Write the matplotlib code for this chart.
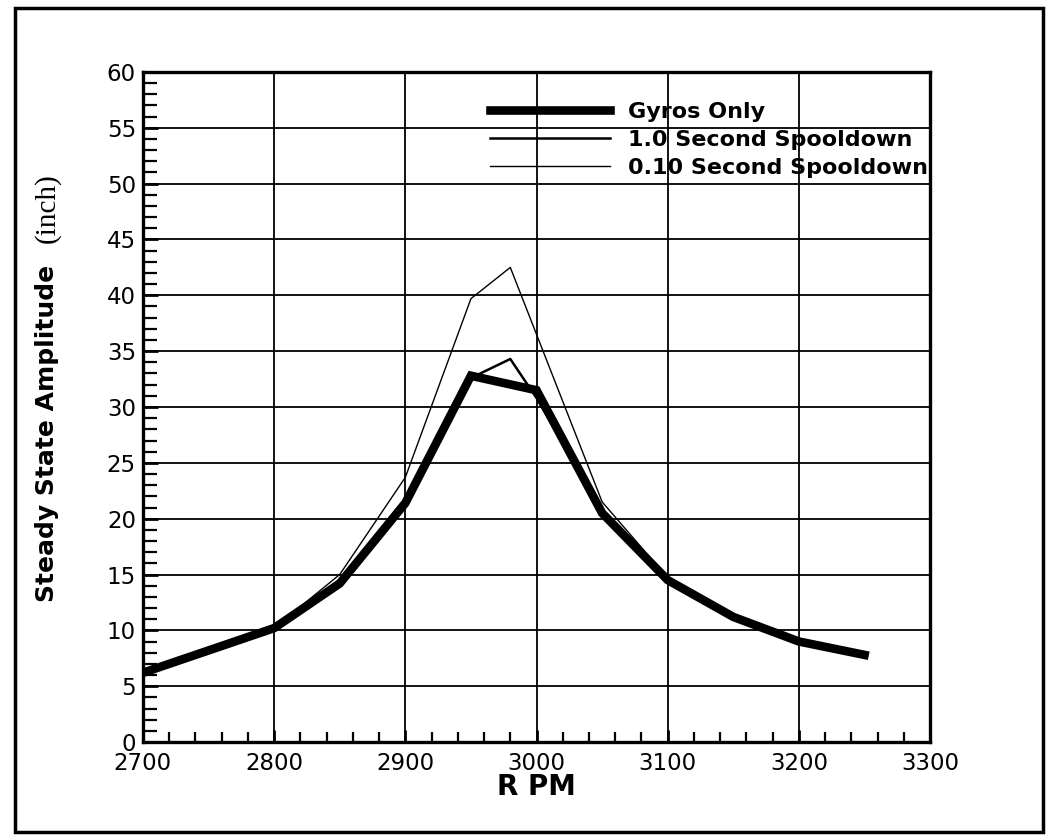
import matplotlib
matplotlib.use("Agg")
import matplotlib.pyplot as plt
from matplotlib.patches import Rectangle
from matplotlib.ticker import MultipleLocator

# values
rpm_gyro = [2700, 2800, 2850, 2900, 2950, 3000, 3050, 3100, 3150, 3200, 3250]
amp_gyro = [6.2, 10.2, 14.2, 21.4, 32.8, 31.5, 20.5, 14.5, 11.2, 9.0, 7.8]

rpm_1s = [2700, 2800, 2850, 2900, 2950, 2980, 3000, 3050, 3100, 3150, 3200, 3250]
amp_1s = [6.2, 10.2, 14.5, 21.8, 32.6, 34.3, 30.8, 20.8, 14.6, 11.2, 9.0, 7.8]

rpm_01s = [2700, 2800, 2850, 2900, 2950, 2980, 3000, 3050, 3100, 3150, 3200, 3250]
amp_01s = [6.2, 10.2, 15.0, 23.7, 39.7, 42.5, 36.5, 21.5, 14.7, 11.2, 9.0, 7.8]

labels = ["Gyros Only", "1.0 Second Spooldown", "0.10 Second Spooldown"]

fig = plt.figure(figsize=(10.51, 8.39), dpi=100)
ax = fig.add_axes([0.136, 0.1156, 0.749, 0.7986])

# outer frame around the whole picture
fig.patches.append(Rectangle((15 / 1051, 7 / 839), 1028 / 1051, 824 / 839,
                             transform=fig.transFigure, fill=False,
                             edgecolor="black", linewidth=2.5))

ax.plot(rpm_gyro, amp_gyro, color="black", linewidth=6.2, label=labels[0],
        solid_joinstyle="miter", zorder=5)
ax.plot(rpm_1s, amp_1s, color="black", linewidth=1.8, label=labels[1], zorder=4)
ax.plot(rpm_01s, amp_01s, color="black", linewidth=1.0, label=labels[2], zorder=3)

ax.set_xlim(2700, 3300)
ax.set_ylim(0, 60)
ax.xaxis.set_major_locator(MultipleLocator(100))
ax.xaxis.set_minor_locator(MultipleLocator(20))
ax.yaxis.set_major_locator(MultipleLocator(5))
ax.yaxis.set_minor_locator(MultipleLocator(1))

ax.grid(True, which="major", color="black", linewidth=1.3)
ax.set_axisbelow(True)
for s in ax.spines.values():
    s.set_linewidth(2.4)

ax.tick_params(axis="x", which="both", direction="in", labelsize=16.5, pad=7)
ax.tick_params(axis="y", which="both", direction="in", labelsize=16.5, pad=5)
ax.tick_params(axis="x", which="major", length=9, width=2)
ax.tick_params(axis="x", which="minor", length=7, width=1.6)
ax.tick_params(axis="y", which="major", length=11, width=2)
ax.tick_params(axis="y", which="minor", length=10, width=1.6)
ax.tick_params(top=False, right=False, which="both")

ax.set_xlabel("R PM", fontsize=20, fontweight="bold", labelpad=-1)

fig.text(0.045, 0.483, "Steady State Amplitude", rotation=90, fontsize=18,
         fontweight="bold", ha="center", va="center")
fig.text(0.045, 0.752, "(inch)", rotation=90, fontsize=21,
         family="Liberation Serif", ha="center", va="center")

leg = ax.legend(loc="upper left", bbox_to_anchor=(0.441, 0.955), frameon=False,
                prop={"weight": "bold", "size": 16},
                handlelength=5.4, handletextpad=0.8, labelspacing=0.36,
                borderpad=0, borderaxespad=0)
leg.set_zorder(6)

fig.savefig("out.png", dpi=100, facecolor="white")
